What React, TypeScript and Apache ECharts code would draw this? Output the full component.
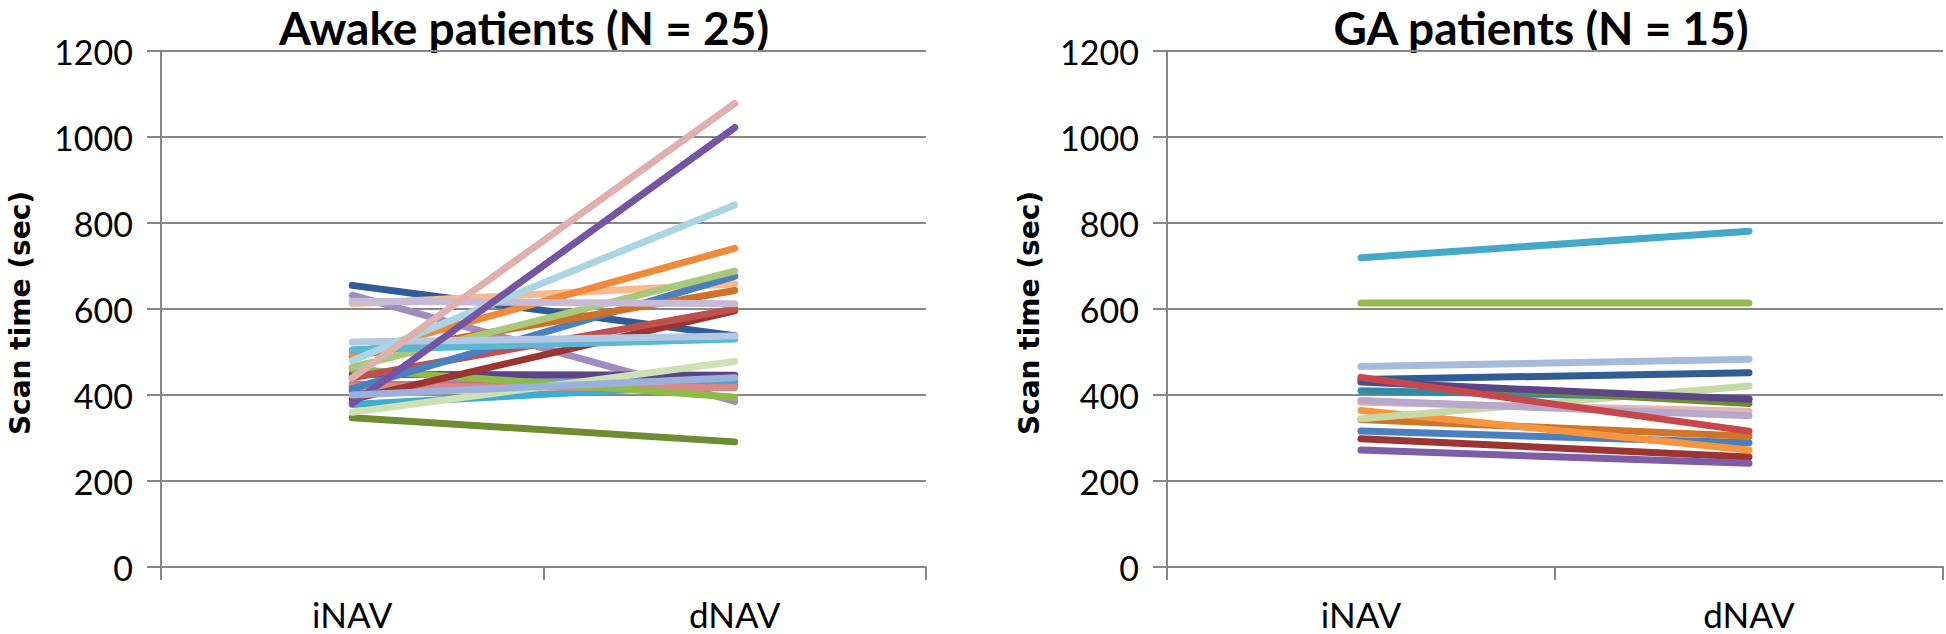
import React, { useEffect, useRef } from "react";
import * as echarts from "echarts";

const categories = ["iNAV", "dNAV"];
const yTicks = { min: 0, max: 1200, interval: 200 };

const awakeTitle = "Awake patients (N = 25)";
const gaTitle = "GA patients (N = 15)";
const yAxisName = "Scan time (sec)";

// Awake patients: [iNAV, dNAV]
const awakeValues: number[][] = [
  [655, 538],
  [632, 385],
  [612, 658],
  [420, 445],
  [410, 432],
  [378, 425],
  [425, 420],
  [420, 417],
  [448, 446],
  [460, 395],
  [347, 291],
  [390, 596],
  [440, 600],
  [415, 676],
  [490, 643],
  [465, 688],
  [495, 741],
  [505, 530],
  [523, 537],
  [360, 478],
  [618, 612],
  [480, 842],
  [380, 1022],
  [440, 1078],
  [400, 440],
];
const awakeColors = [
  "#2f5d94", "#a08cc0", "#f9b98a", "#7f9fd0", "#2f8ca8", "#3eaed0", "#cd7371", "#d88a88",
  "#5b4585", "#8fba4a", "#6e8c32", "#9b3432", "#c0504d", "#4a7fc0", "#cf7226", "#a9c97a",
  "#ef8a3a", "#5bb8d2", "#b4c8e4", "#cfe0b4", "#c5bad8", "#a9d6e2", "#7554a3", "#e0b0ae",
  "#9bb1dc",
];

// GA patients: [iNAV, dNAV]
const gaValues: number[][] = [
  [298, 256],
  [272, 241],
  [316, 289],
  [343, 304],
  [364, 272],
  [345, 421],
  [383, 362],
  [387, 352],
  [410, 392],
  [432, 380],
  [430, 390],
  [436, 452],
  [441, 316],
  [466, 483],
  [614, 614],
  [719, 781],
];
const gaColors = [
  "#9b3432", "#7e5ca8", "#4a7fc0", "#d07428", "#f7953f", "#c5d9a6", "#e6b6b4", "#b7a8cc",
  "#2f8ca8", "#6e8c32", "#5b4585", "#2f5d94", "#c8474a", "#a6bbdb", "#93bb4c", "#44a9c8",
];

const GRID_COLOR = "#878787";

function makeAxes(gridIndex: number) {
  return {
    x: {
      type: "category",
      gridIndex,
      data: categories,
      boundaryGap: true,
      axisLine: { show: true, lineStyle: { color: GRID_COLOR, width: 2 } },
      axisTick: { show: true, length: 13, alignWithLabel: false, lineStyle: { color: GRID_COLOR, width: 2 } },
      axisLabel: { color: "#000", fontFamily: "Lato", fontSize: 35, margin: 29 },
      splitLine: { show: false },
    },
    y: {
      type: "value",
      gridIndex,
      min: yTicks.min,
      max: yTicks.max,
      interval: yTicks.interval,
      axisLine: { show: true, lineStyle: { color: GRID_COLOR, width: 2 } },
      axisTick: { show: true, length: 14, lineStyle: { color: GRID_COLOR, width: 2 } },
      axisLabel: {
        color: "#000",
        fontFamily: "Lato",
        fontSize: 34,
        margin: 28,
        formatter: (v: number) => String(v),
      },
      splitLine: { show: true, lineStyle: { color: GRID_COLOR, width: 2 } },
    },
  };
}

function makeSeries(values: number[][], colors: string[], idx: number) {
  return values.map((v, i) => ({
    type: "line",
    xAxisIndex: idx,
    yAxisIndex: idx,
    data: v,
    symbol: "none",
    lineStyle: { color: colors[i], width: 7, cap: "round" },
    itemStyle: { color: colors[i] },
    z: 2,
  }));
}

export default function App() {
  const ref = useRef<HTMLDivElement>(null);
  useEffect(() => {
    document.body.style.margin = "0";
    if (!ref.current) return;
    const chart = echarts.init(ref.current, null, { renderer: "svg" });
    const a = makeAxes(0);
    const b = makeAxes(1);
    chart.setOption({
      animation: false,
      backgroundColor: "#fff",
      grid: [
        { left: 161, right: 1020, top: 51, bottom: 67 },
        { left: 1167, right: 3, top: 51, bottom: 67 },
      ],
      xAxis: [a.x, b.x],
      yAxis: [a.y, b.y],
      series: [...makeSeries(awakeValues, awakeColors, 0), ...makeSeries(gaValues, gaColors, 1)],
      graphic: [
        {
          type: "text",
          x: 524,
          y: 27,
          style: { text: awakeTitle, font: "bold 46px Lato", fill: "#000", align: "center", verticalAlign: "middle" },
        },
        {
          type: "text",
          x: 1541,
          y: 27,
          style: { text: gaTitle, font: "bold 46px Lato", fill: "#000", align: "center", verticalAlign: "middle" },
        },
        {
          type: "text",
          x: 20,
          y: 313,
          rotation: Math.PI / 2,
          style: { text: yAxisName, font: "bold 28px 'DejaVu Sans'", fill: "#000", align: "center", verticalAlign: "middle" },
        },
        {
          type: "text",
          x: 1029,
          y: 313,
          rotation: Math.PI / 2,
          style: { text: yAxisName, font: "bold 28px 'DejaVu Sans'", fill: "#000", align: "center", verticalAlign: "middle" },
        },
      ],
    });
    return () => chart.dispose();
  }, []);
  return <div ref={ref} style={{ width: 1946, height: 634 }} />;
}
